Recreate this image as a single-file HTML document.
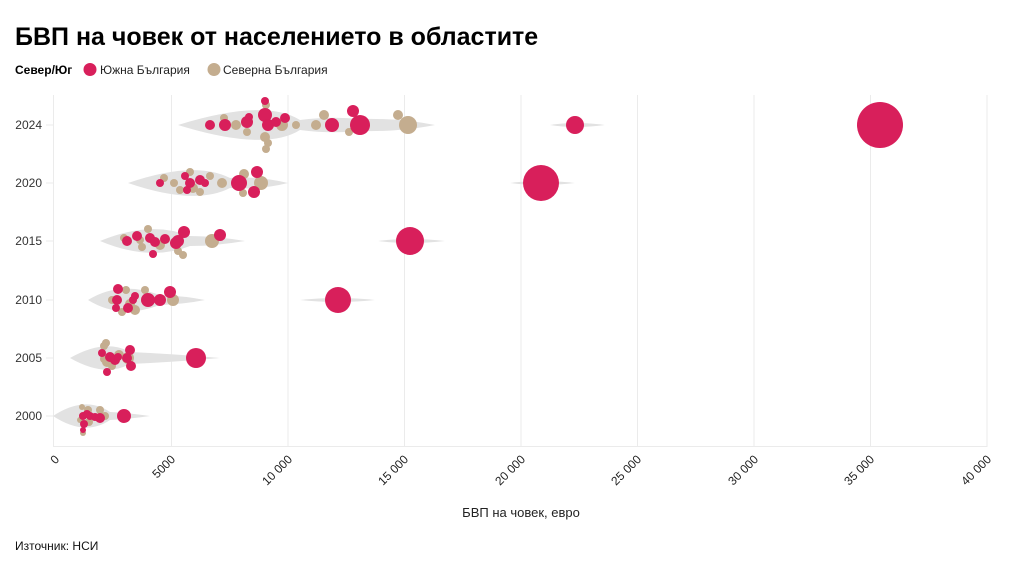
<!DOCTYPE html>
<html><head><meta charset="utf-8"><style>
body{margin:0;background:#fff;width:1023px;height:570px;overflow:hidden;font-family:"Liberation Sans","DejaVu Sans",sans-serif;}
</style></head><body>
<svg width="1023" height="570" xmlns="http://www.w3.org/2000/svg" font-family="Liberation Sans, DejaVu Sans, sans-serif">
<text x="15" y="45" font-size="25" font-weight="bold" fill="#000">БВП на човек от населението в областите</text>
<text x="15" y="74" font-size="12" font-weight="bold" fill="#000">Север/Юг</text>
<circle cx="90" cy="69.5" r="6.5" fill="#d81f5b"/>
<text x="100" y="74" font-size="12" fill="#222">Южна България</text>
<circle cx="214" cy="69.5" r="6.5" fill="#c4ad8f"/>
<text x="223" y="74" font-size="12" fill="#222">Северна България</text>
<g stroke="#ebebeb" stroke-width="1">
<line x1="53.5" y1="95" x2="53.5" y2="447"/>
<line x1="171.5" y1="95" x2="171.5" y2="447"/>
<line x1="288" y1="95" x2="288" y2="447"/>
<line x1="404.5" y1="95" x2="404.5" y2="447"/>
<line x1="521" y1="95" x2="521" y2="447"/>
<line x1="637.5" y1="95" x2="637.5" y2="447"/>
<line x1="754" y1="95" x2="754" y2="447"/>
<line x1="870.5" y1="95" x2="870.5" y2="447"/>
<line x1="987" y1="95" x2="987" y2="447"/>
<line x1="53" y1="446.5" x2="987" y2="446.5"/>
<line x1="46" y1="125" x2="53" y2="125"/><line x1="46" y1="183" x2="53" y2="183"/>
<line x1="46" y1="241" x2="53" y2="241"/><line x1="46" y1="300" x2="53" y2="300"/>
<line x1="46" y1="358" x2="53" y2="358"/><line x1="46" y1="416" x2="53" y2="416"/>
</g>
<g font-size="12" fill="#333" text-anchor="end">
<text x="42" y="129">2024</text><text x="42" y="187">2020</text><text x="42" y="245">2015</text>
<text x="42" y="304">2010</text><text x="42" y="362">2005</text><text x="42" y="420">2000</text>
</g>
<g font-size="12" fill="#222" text-anchor="end">
<text transform="translate(60,460) rotate(-45)">0</text>
<text transform="translate(176,460) rotate(-45)">5000</text>
<text transform="translate(293,460) rotate(-45)">10 000</text>
<text transform="translate(409,460) rotate(-45)">15 000</text>
<text transform="translate(526,460) rotate(-45)">20 000</text>
<text transform="translate(642,460) rotate(-45)">25 000</text>
<text transform="translate(759,460) rotate(-45)">30 000</text>
<text transform="translate(875,460) rotate(-45)">35 000</text>
<text transform="translate(992,460) rotate(-45)">40 000</text>
</g>
<text x="521" y="517" font-size="13" fill="#222" text-anchor="middle">БВП на човек, евро</text>
<text x="15" y="550" font-size="12" fill="#111">Източник: НСИ</text>
<g fill="#e2e2e2">
<path d="M178,125 Q265,98 300,120 Q330,116 360,119 Q400,118 435,125 Q400,132 360,131 Q330,134 300,130 Q265,152 178,125Z"/>
<path d="M550,125 Q575,121 605,125 Q575,129 550,125Z"/>
<path d="M128,183 Q195,160 230,178 Q260,176 288,183 Q260,190 230,188 Q195,206 128,183Z"/>
<path d="M510,183 Q540,179 575,183 Q540,187 510,183Z"/>
<path d="M100,241 Q150,220 190,236 Q215,236 245,241 Q215,246 190,246 Q150,262 100,241Z"/>
<path d="M378,241 Q410,237 445,241 Q410,245 378,241Z"/>
<path d="M88,300 Q120,280 160,295 Q185,296 205,300 Q185,304 160,305 Q120,320 88,300Z"/>
<path d="M300,300 Q338,296 375,300 Q338,304 300,300Z"/>
<path d="M70,358 Q105,338 130,352 Q175,354 220,358 Q175,362 130,364 Q105,378 70,358Z"/>
<path d="M53,416 Q85,395 110,412 Q130,413 150,416 Q130,419 110,420 Q85,437 53,416Z"/>
</g>
<g id="pts"></g>
</svg>
<script>
var R="#d81f5b",T="#c4ad8f";
var d=[
[224,118,4,T],[236,125,5,T],[247,132,4,T],[266,105,4,T],[282,125,6,T],[265,137,5,T],[268,143,4,T],[266,149,4,T],[296,125,4,T],[316,125,5,T],[324,115,5,T],[349,132,4,T],[398,115,5,T],[408,125,9,T],
[210,125,5,R],[225,125,6,R],[247,122,6,R],[249,117,4,R],[265,101,4,R],[265,115,7,R],[268,125,6,R],[276,122,5,R],[285,118,5,R],[332,125,7,R],[353,111,6,R],[360,125,10,R],[575,125,9,R],[880,125,23,R],
[164,178,4,T],[174,183,4,T],[180,190,4,T],[193,188,5,T],[222,183,5,T],[244,174,5,T],[243,193,4,T],[261,183,7,T],[200,192,4,T],[210,176,4,T],[190,172,4,T],
[160,183,4,R],[185,176,4,R],[190,183,5,R],[200,180,5,R],[205,183,4,R],[187,190,4,R],[239,183,8,R],[257,172,6,R],[254,192,6,R],[541,183,18,R],
[148,229,4,T],[142,247,4,T],[160,245,5,T],[212,241,7,T],[178,251,4,T],[183,255,4,T],[124,238,4,T],[140,240,4,T],
[127,241,5,R],[137,236,5,R],[150,238,5,R],[155,242,5,R],[165,239,5,R],[176,243,6,R],[178,241,6,R],[184,232,6,R],[220,235,6,R],[153,254,4,R],[410,241,14,R],
[112,300,4,T],[126,290,4,T],[135,310,5,T],[130,304,5,T],[173,300,6,T],[145,290,4,T],[122,312,4,T],
[118,289,5,R],[117,300,5,R],[133,300,4,R],[128,308,5,R],[135,296,4,R],[148,300,7,R],[160,300,6,R],[170,292,6,R],[116,308,4,R],[338,300,13,R],
[104,346,4,T],[107,362,5,T],[112,366,4,T],[119,355,5,T],[128,358,6,T],[104,359,4,T],[106,343,4,T],
[102,353,4,R],[110,357,5,R],[115,360,5,R],[118,357,4,R],[127,358,5,R],[130,350,5,R],[131,366,5,R],[107,372,4,R],[196,358,10,R],
[82,407,3,T],[88,410,4,T],[100,410,4,T],[105,416,4,T],[89,422,4,T],[80,420,3,T],[83,433,3,T],
[83,416,4,R],[87,414,4,R],[90,416,4,R],[95,417,4,R],[100,418,5,R],[84,424,4,R],[83,430,3,R],[124,416,7,R]
];
var g=document.getElementById("pts"),s="";
d.forEach(function(p){s+='<circle cx="'+p[0]+'" cy="'+p[1]+'" r="'+p[2]+'" fill="'+p[3]+'"/>';});
g.innerHTML=s;
</script>
</body></html>
